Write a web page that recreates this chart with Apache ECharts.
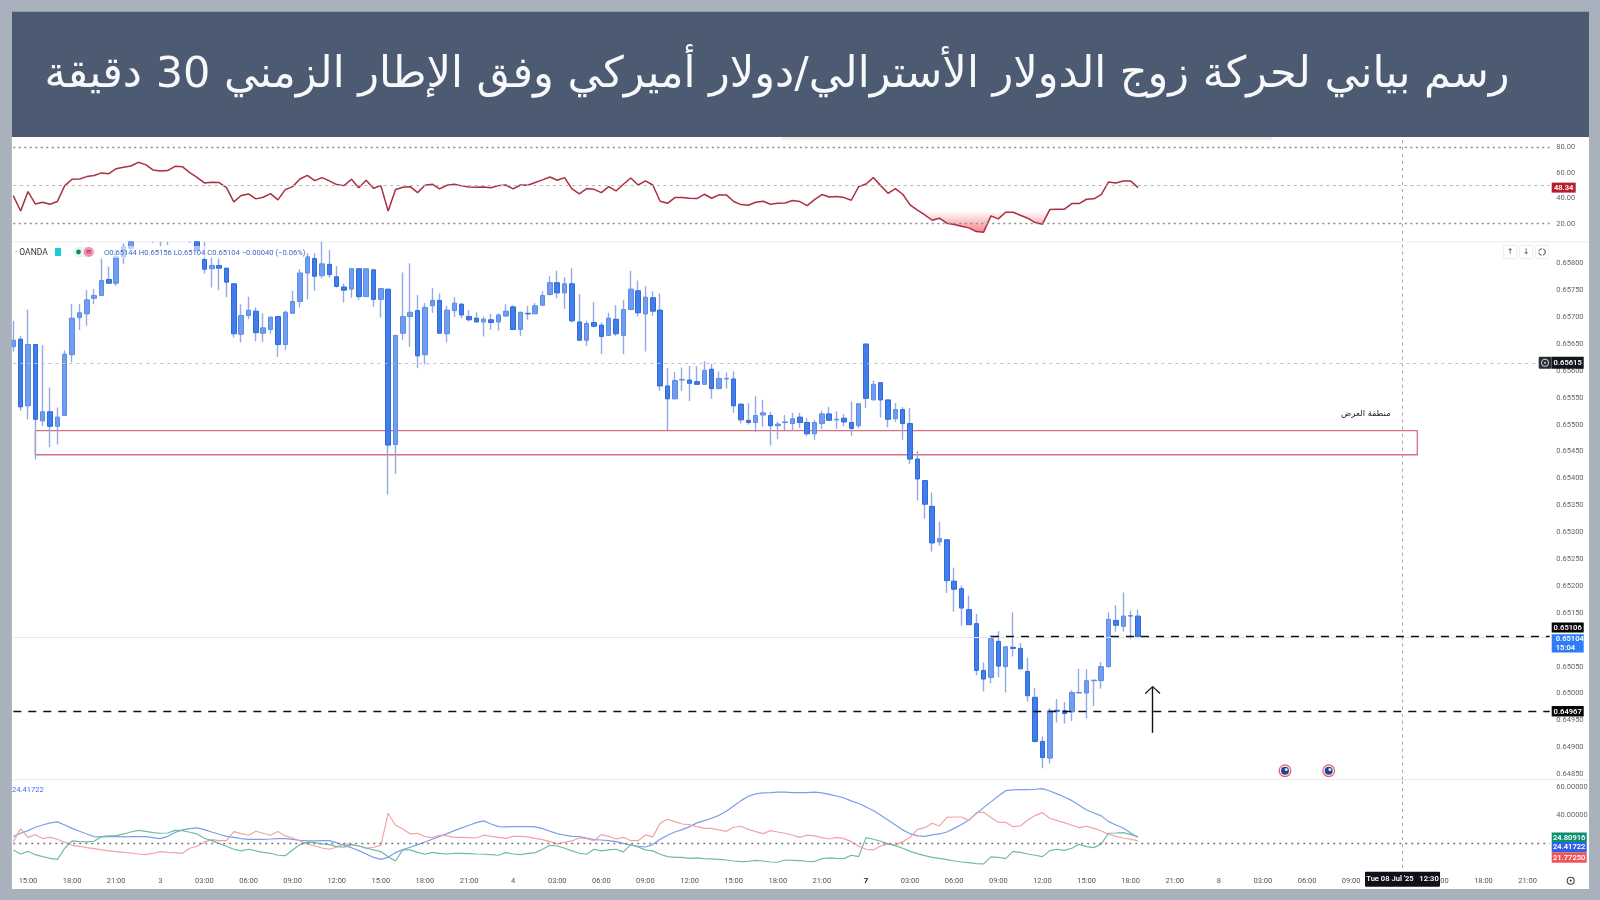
<!DOCTYPE html>
<html lang="ar">
<head>
<meta charset="utf-8">
<title>AUD/USD 30m</title>
<style>html,body{margin:0;padding:0;background:#a9b2bc}#c{width:1600px;height:900px}</style>
<script src="https://cdn.jsdelivr.net/npm/echarts@6/dist/echarts.min.js"></script>
</head>
<body>
<div id="c"></div>
<script>
const titleText = 'رسم بياني لحركة زوج الدولار الأسترالي/دولار أميركي وفق الإطار الزمني 30 دقيقة';
const zoneLabel = 'منطقة العرض';

// prices in units of 0.00001
const open = [
65645,65659,65535,65649,65507,65524,65497,65517,65630,65699,
65706,65735,65740,65770,65763,65812,65828,65860,65885,65860,
65860,65846,65868,65870,65880,65860,65807,65790,65796,65791,
65762,65668,65703,65711,65670,65677,65701,65649,65707,65729,
65782,65809,65777,65798,65775,65756,65752,65790,65738,65788,
65733,65752,65463,65670,65701,65712,65630,65721,65731,65669,
65712,65724,65701,65698,65691,65695,65691,65702,65719,65677,
65707,65706,65722,65742,65764,65745,65762,65691,65657,65690,
65685,65666,65696,65666,65714,65749,65706,65736,65713,65572,
65548,65583,65583,65580,65575,65603,65567,65585,65585,65538,
65508,65504,65518,65517,65498,65504,65502,65514,65504,65483,
65502,65520,65509,65512,65504,65498,65650,65546,65578,65546,
65511,65528,65502,65436,65396,65348,65282,65286,65209,65195,
65156,65130,65043,65030,65097,65050,65086,65084,65041,64993,
64911,64880,64969,64968,64966,65001,65001,65024,65024,65050,
65136,65125,65144,65144];
const close = [
65657,65533,65649,65510,65524,65497,65514,65631,65698,65708,
65732,65740,65768,65763,65812,65831,65860,65885,65870,65870,
65868,65855,65841,65850,65865,65824,65789,65796,65791,65765,
65669,65703,65713,65671,65680,65700,65649,65709,65729,65782,
65812,65776,65799,65779,65757,65750,65790,65738,65790,65733,
65753,65462,65666,65701,65709,65628,65718,65731,65670,65713,
65726,65704,65695,65691,65696,65690,65704,65711,65677,65709,
65706,65721,65740,65764,65745,65762,65693,65657,65688,65683,
65664,65698,65669,65714,65752,65708,65737,65711,65572,65548,
65582,65584,65577,65575,65601,65567,65586,65586,65535,65509,
65504,65517,65522,65498,65501,65505,65511,65504,65483,65504,
65520,65508,65510,65505,65493,65539,65549,65575,65546,65510,
65528,65502,65436,65399,65352,65280,65288,65210,65194,65159,
65128,65043,65027,65102,65051,65087,65084,65046,64996,64911,
64881,64968,64967,64963,65002,65002,65024,65025,65050,65138,
65127,65144,65145,65104];
const high = [
65693,65665,65714,65649,65648,65569,65532,65638,65724,65724,
65750,65752,65809,65794,65825,65837,65870,65895,65895,65885,
65880,65870,65880,65880,65890,65875,65860,65810,65809,65791,
65762,65724,65738,65718,65707,65700,65701,65712,65749,65789,
65819,65819,65848,65825,65795,65762,65790,65790,65790,65788,
65753,65752,65666,65783,65800,65741,65726,65754,65744,65721,
65737,65726,65713,65709,65701,65706,65707,65724,65722,65710,
65721,65726,65748,65776,65786,65774,65791,65743,65693,65728,
65690,65708,65722,65732,65786,65768,65758,65748,65744,65605,
65598,65606,65609,65609,65618,65613,65599,65597,65599,65540,
65540,65553,65546,65524,65505,65518,65522,65522,65512,65509,
65526,65533,65525,65520,65543,65539,65650,65582,65578,65546,
65540,65533,65531,65451,65396,65374,65319,65286,65234,65201,
65182,65148,65058,65109,65116,65087,65151,65094,65066,65010,
64920,64973,64990,64984,65006,65046,65045,65025,65059,65151,
65164,65188,65154,65156];
const low = [
65636,65526,65510,65435,65497,65458,65463,65517,65616,65676,
65684,65724,65740,65762,65758,65799,65825,65855,65850,65838,
65832,65834,65840,65845,65838,65820,65781,65755,65750,65737,
65662,65653,65696,65655,65654,65669,65626,65639,65707,65718,
65733,65749,65772,65773,65755,65727,65736,65732,65738,65719,
65699,65370,65408,65657,65645,65605,65612,65708,65669,65653,
65700,65698,65692,65690,65664,65676,65675,65700,65676,65665,
65695,65706,65721,65740,65735,65715,65690,65656,65646,65681,
65631,65666,65665,65631,65713,65701,65636,65702,65563,65490,
65547,65563,65544,65574,65574,65548,65566,65567,65522,65502,
65500,65486,65496,65461,65473,65490,65489,65494,65479,65472,
65492,65507,65492,65497,65479,65493,65531,65546,65513,65495,
65505,65472,65427,65359,65325,65264,65275,65187,65152,65126,
65128,65034,65004,65019,65030,65002,65069,65045,64985,64909,
64861,64870,64946,64944,64949,65001,64954,64977,65009,65049,
65115,65115,65101,65104];

const rsi = [
42.1,30.0,45.2,35.5,36.8,35.3,37.4,49.9,54.9,55.1,57.0,57.8,59.9,59.3,63.2,64.3,65.3,68.2,66.4,62.2,
61.4,61.7,65.1,64.8,60.1,56.4,52.0,52.5,52.3,48.3,37.1,42.1,43.4,39.5,40.8,43.6,38.7,46.8,49.1,55.1,
58.0,53.8,56.2,53.6,50.7,49.9,54.9,48.3,54.1,47.8,49.9,30.0,46.8,48.6,49.1,44.4,50.2,51.0,47.3,50.2,
51.0,49.7,48.9,48.6,48.9,48.3,49.9,50.4,47.3,50.4,50.2,52.3,54.4,56.7,54.1,56.2,47.3,43.4,47.6,47.0,
44.4,49.1,45.7,51.0,55.9,50.4,53.6,50.4,37.6,36.0,40.5,40.5,40.0,39.7,43.1,40.0,42.6,42.6,37.4,35.0,
34.5,36.8,37.6,35.3,36.0,36.3,38.2,37.4,34.2,38.9,42.9,41.0,41.3,40.5,38.4,49.1,51.2,56.2,49.9,43.9,
47.6,43.1,34.8,30.6,26.9,22.7,24.3,20.4,19.3,18.0,16.7,13.8,13.3,26.1,23.8,29.0,29.0,26.6,24.3,20.9,
19.6,31.1,31.4,31.4,35.8,35.8,39.2,39.5,42.9,52.8,52.0,53.6,53.6,48.34];

const adxBlue = [
24.8,27.2,29.1,31.5,33.1,34.6,35.3,33.1,30.7,28.6,26.7,24.8,24.6,24.8,25.0,24.6,24.8,24.8,24.8,24.1,
23.4,25.0,27.7,29.6,30.5,31.0,29.8,28.1,26.5,25.0,24.3,23.4,22.9,22.9,22.9,23.1,23.4,23.4,22.9,22.2,
21.7,21.7,21.9,21.9,20.3,18.6,16.9,14.8,12.4,10.0,8.6,10.0,13.4,15.5,17.2,19.1,21.0,22.9,25.0,26.9,
29.1,31.0,32.9,34.8,36.0,33.8,31.9,31.7,31.9,31.9,31.9,31.7,30.5,28.6,26.9,25.8,25.0,24.8,23.8,22.7,
22.4,21.9,21.2,20.0,18.8,17.9,17.4,19.1,22.9,25.8,28.1,29.8,31.9,34.6,36.2,37.9,40.0,42.9,46.7,50.5,
53.6,55.3,56.0,56.2,56.5,56.5,56.2,56.2,56.2,56.5,56.0,55.0,53.8,52.4,50.3,48.4,46.0,43.4,40.0,36.7,
33.1,29.6,26.9,25.3,25.0,26.0,26.7,28.1,30.7,33.4,36.7,41.2,45.5,49.6,53.8,57.6,58.1,58.4,58.4,58.6,
59.1,57.4,55.3,53.1,50.5,47.2,43.8,41.7,39.6,35.5,33.1,31.0,27.4,24.42];
const adxRed = [
21.2,30.5,24.3,26.2,23.4,24.3,22.9,20.8,18.6,17.9,16.9,16.2,15.3,14.6,14.1,13.6,13.1,12.4,11.9,12.9,
14.1,13.6,13.4,12.9,16.5,17.9,21.0,22.7,21.9,21.9,28.4,26.9,25.8,28.6,27.2,25.8,28.4,25.3,23.8,21.7,
19.6,18.1,16.7,15.8,17.4,19.6,19.1,18.1,16.5,17.2,18.6,41.5,32.9,30.3,26.7,27.2,24.8,24.1,25.8,25.3,
24.3,24.3,24.1,23.8,25.8,25.0,24.3,23.6,25.0,25.0,24.6,23.6,22.7,21.2,19.6,20.8,21.7,23.8,23.4,21.9,
26.2,25.0,23.1,24.3,21.9,21.9,26.0,24.6,34.3,37.2,35.5,33.8,33.4,31.9,30.7,30.7,29.6,28.6,31.5,32.2,
30.0,28.4,26.9,29.1,28.1,27.2,25.8,24.3,25.8,25.3,24.1,23.1,24.3,23.4,21.2,18.1,15.8,15.3,18.1,19.6,
18.6,21.2,24.3,30.0,31.2,34.3,32.4,38.6,38.8,38.8,36.2,41.9,42.2,38.4,35.0,35.0,31.9,32.4,36.7,39.8,
41.9,37.9,36.2,34.8,32.9,31.2,32.2,30.7,28.8,26.5,25.0,23.8,22.9,21.77];
const adxGreen = [
15.3,12.4,14.3,11.9,10.5,9.3,8.6,16.5,21.7,21.2,21.0,21.5,24.8,25.3,25.5,26.7,28.1,29.3,28.6,27.7,
27.2,27.4,29.3,29.1,27.9,26.7,23.6,21.9,20.0,17.9,15.8,14.6,15.8,14.6,13.6,12.9,11.5,11.2,15.3,19.1,
20.8,20.5,19.6,19.1,17.7,17.2,19.1,18.1,16.7,15.3,14.1,10.5,7.4,15.3,15.3,13.6,12.2,13.6,12.9,12.4,
12.9,12.9,12.7,12.4,12.2,11.9,11.5,13.4,12.4,11.9,12.9,13.4,15.8,18.6,18.1,16.5,14.6,12.9,12.2,15.8,
14.6,15.3,15.8,13.9,19.1,17.4,15.3,14.6,12.2,10.5,10.0,10.0,9.3,9.6,9.1,8.9,8.6,8.1,7.4,7.0,
7.2,7.9,7.4,6.7,6.5,8.1,7.9,7.7,7.2,7.0,9.1,9.6,9.3,9.1,11.5,10.5,24.1,22.9,21.5,19.6,
18.4,16.5,14.3,12.7,11.2,10.0,9.3,8.4,7.4,6.7,6.2,5.5,5.3,10.3,10.0,9.1,14.3,13.6,12.4,11.5,
10.5,14.8,15.8,15.0,16.5,19.3,17.7,16.9,19.6,27.2,27.4,27.7,26.2,24.81];

const priceTicks = [65800,65750,65700,65650,65600,65550,65500,65450,65400,65350,65300,65250,65200,65150,65100,65050,65000,64950,64900,64850];
const rsiTicks = [80,60,40,20];
const adxTicks = [60,40];
const timeTicks = ['15:00','18:00','21:00','3','03:00','06:00','09:00','12:00','15:00','18:00','21:00','4','03:00','06:00','09:00','12:00','15:00','18:00','21:00','7','03:00','06:00','09:00','12:00','15:00','18:00','21:00','8','03:00','06:00','09:00','12:00','15:00','18:00','21:00'];
const firstTickIndex = 2, barsPerTick = 6, barCount = 210;
const crossIndex = 189;
const priceMin = 64840, priceMax = 65840;
const zone = {from:3, to:191, top:65489, bottom:65444};
const levels = {ref:65615, last:65104, upper:65106, lower:64967};

const categories = new Array(barCount).fill('');
timeTicks.forEach((t,k)=>{categories[firstTickIndex+k*barsPerTick]=t;});

// the price pane cuts candles off at its top edge
const capTop = v=>Math.min(v,priceMax);
const wickData = open.map((o,i)=>low[i]>=priceMax?'-':[capTop(o),capTop(close[i]),low[i],capTop(high[i])]);
const bodyData = open.map((o,i)=>{
  const c=close[i];
  if(Math.min(o,c)>=priceMax) return '-';
  return [capTop(o),capTop(c),Math.min(o,c),capTop(Math.max(o,c))];
});

const FONT='Roboto, "Open Sans", sans-serif';
const GL=9.6, GR=1600-(9.6+7.351*barCount);
const grids=[
  {left:GL,right:GR,top:137,height:104},
  {left:GL,right:GR,top:241.8,height:537.8},
  {left:GL,right:GR,top:779.6,height:88.4}
];
function xA(i,show){return {type:'category',gridIndex:i,data:categories,boundaryGap:true,
  axisLine:{show:false},axisTick:{show:false},splitLine:{show:false},
  axisLabel:show?{show:true,interval:0,margin:9,fontFamily:FONT,fontSize:7.5,color:'#555',hideOverlap:false,
    formatter:v=>v==='7'?'{b|7}':v,rich:{b:{fontWeight:'bold',color:'#222',fontSize:8,fontFamily:FONT}}}:{show:false}};}
function yA(i,min,max,ticks,fmt){return {type:'value',gridIndex:i,position:'right',min,max,scale:true,
  axisLine:{show:false},axisTick:{show:false},splitLine:{show:false},
  axisLabel:{show:true,margin:3,customValues:ticks,fontFamily:FONT,fontSize:7.5,color:'#666',formatter:fmt,showMinLabel:true,showMaxLabel:true}};}
function hline(v,from,style){return [{coord:[from,v],lineStyle:style},{coord:[barCount-1,v]}];}
const crossStyle={color:'#a5a9b0',width:1,type:[3,4]};
function crossLine(){return {xAxis:crossIndex,lineStyle:crossStyle};}
const dotDark={color:'#8a8d92',width:1.3,type:[2,3.5]};
const dashLight={color:'#b4b6b8',width:1,type:[3,3.5]};
const dashBlack={color:'#111',width:1.4,type:[8,7]};

const option={
  animation:false,
  backgroundColor:'#a9b2bc',
  title:{text:titleText,left:772,top:49,textAlign:'center',z:20,
    textStyle:{fontFamily:'"DejaVu Sans"',fontSize:43,fontWeight:'normal',color:'#f7f8fa'}},
  grid:grids,
  xAxis:[xA(0,false),xA(1,false),xA(2,true)],
  yAxis:[
    yA(0,6.4,88.1,rsiTicks,v=>v.toFixed(2)),
    yA(1,priceMin,priceMax,priceTicks,v=>(v/1e5).toFixed(5)),
    yA(2,2.4,65.5,adxTicks,v=>v.toFixed(5))
  ],
  series:[
    {type:'line',name:'oversold',xAxisIndex:0,yAxisIndex:0,data:rsi.map(v=>Math.min(v,30)),showSymbol:false,silent:true,
      lineStyle:{opacity:0},areaStyle:{origin:30,opacity:1,color:new echarts.graphic.LinearGradient(0,0,0,1,[{offset:0,color:'rgba(242,54,69,0)'},{offset:1,color:'rgba(242,54,69,0.6)'}])}},
    {type:'line',name:'RSI',xAxisIndex:0,yAxisIndex:0,data:rsi,showSymbol:false,silent:true,
      lineStyle:{color:'#a92f42',width:1.5},
      markLine:{silent:true,symbol:'none',label:{show:false},animation:false,data:[
        hline(80,0,dotDark),hline(50,0,dashLight),hline(20,0,dotDark),crossLine()]}},
    {type:'candlestick',name:'wicks',xAxisIndex:1,yAxisIndex:1,data:wickData,barWidth:1,silent:true,
      itemStyle:{color:'#93aae6',color0:'#93aae6',borderColor:'#93aae6',borderColor0:'#93aae6',borderWidth:1.4},
      markArea:{silent:true,label:{show:false},itemStyle:{color:'rgba(0,0,0,0)',borderColor:'#d8707e',borderWidth:1.3},
        data:[[{coord:[zone.from,zone.top]},{coord:[zone.to,zone.bottom]}]]},
      markLine:{silent:true,symbol:'none',label:{show:false},animation:false,data:[
        hline(levels.ref,0,{color:'#bdbfc2',width:1,type:[3,4]}),
        hline(levels.last,0,{color:'#e4e7ec',width:1,type:'solid'}),
        crossLine()]}},
    {type:'candlestick',name:'bodies',xAxisIndex:1,yAxisIndex:1,data:bodyData,barWidth:5,silent:true,
      itemStyle:{color:'#6e9ef2',color0:'#3f7eeb',borderColor:'#5f8ce2',borderColor0:'#3269d6',borderWidth:1},
      markLine:{silent:true,symbol:'none',label:{show:false},animation:false,data:[
        hline(levels.upper,133,dashBlack),hline(levels.lower,0,dashBlack),
        [{coord:[155,64927],lineStyle:{color:'#111',width:1.4,type:'solid'}},{coord:[155,65013]}],
        [{coord:[154,65000],lineStyle:{color:'#111',width:1.2,type:'solid'}},{coord:[155,65013]}],
        [{coord:[156,65000],lineStyle:{color:'#111',width:1.2,type:'solid'}},{coord:[155,65013]}]
      ]},
      markPoint:{silent:true,symbol:'circle',symbolSize:0,data:[{coord:[184,65520],label:{show:true,position:'inside',formatter:zoneLabel,color:'#222',fontSize:8.5,fontFamily:'"DejaVu Sans"'}}]}},
    {type:'line',name:'ADX',xAxisIndex:2,yAxisIndex:2,data:adxBlue,showSymbol:false,silent:true,lineStyle:{color:'#7c9de9',width:1.2},
      markLine:{silent:true,symbol:'none',label:{show:false},animation:false,data:[hline(20,0,{color:'#777',width:1.4,type:[2,4]}),crossLine()]}},
    {type:'line',name:'DI+',xAxisIndex:2,yAxisIndex:2,data:adxRed,showSymbol:false,silent:true,lineStyle:{color:'#f3a3a6',width:1.2}},
    {type:'line',name:'DI-',xAxisIndex:2,yAxisIndex:2,data:adxGreen,showSymbol:false,silent:true,lineStyle:{color:'#6fbd9e',width:1.2}}
  ]
};
const chart=echarts.init(document.getElementById('c'),null,{renderer:'canvas',width:1600,height:900});
chart.setOption(option);

// tags on the right-hand scale, anchored through the axes
const tags=[
  {axis:0,value:rsi[rsi.length-1],text:'48.34',bg:'#b71f2e',w:24,h:10,dy:0},
  {axis:1,value:levels.ref,text:'0.65615',bg:'#10141c',w:32,h:12,dy:0},
  {axis:1,value:levels.upper,text:'0.65106',bg:'#050505',w:32,h:10,dy:-9},
  {axis:1,value:levels.last,text:'0.65104\n15:04',bg:'#2f7df6',w:32,h:18.4,dy:5.8},
  {axis:1,value:levels.lower,text:'0.64967',bg:'#050505',w:32,h:10.5,dy:0},
  {axis:2,value:adxGreen[adxGreen.length-1],text:'24.80916',bg:'#0c8f6c',w:35,h:9.6,dy:0.8},
  {axis:2,value:adxBlue[adxBlue.length-1],text:'24.41722',bg:'#2f62e6',w:35,h:10.4,dy:10},
  {axis:2,value:adxRed[adxRed.length-1],text:'21.77250',bg:'#f0535a',w:35,h:10.6,dy:16.7}
];
const TX=1551.7;
const g=[];
// frame
g.push({type:'rect',z:-20,silent:true,shape:{x:11.7,y:11.5,width:1577.3,height:877.5},style:{fill:'#ffffff'}});
g.push({type:'rect',z:-15,silent:true,shape:{x:11.7,y:11.5,width:1577.3,height:125.5},style:{fill:'#4c5a72'}});
g.push({type:'rect',z:-10,silent:true,shape:{x:782,y:137,width:490,height:3},style:{fill:'#efece6'}});
g.push({type:'rect',z:-10,silent:true,shape:{x:11.7,y:241,width:1577.3,height:1.6},style:{fill:'#f1f2f3'}});
g.push({type:'rect',z:-10,silent:true,shape:{x:11.7,y:779,width:1577.3,height:1.2},style:{fill:'#eceef0'}});
g.push({type:'rect',z:60,silent:true,shape:{x:0,y:0,width:11.7,height:900},style:{fill:'#a9b2bc'}});
// legend
g.push({type:'rect',z:30,silent:true,shape:{x:100,y:246,width:206,height:12},style:{fill:'rgba(255,255,255,0.55)'}});
g.push({type:'text',z:31,silent:true,style:{text:'· OANDA',x:15,y:253,fill:'#333',font:'8.5px '+FONT,textVerticalAlign:'middle'}});
g.push({type:'rect',z:31,silent:true,shape:{x:55,y:248,width:6,height:8},style:{fill:'#1ccad8'}});
g.push({type:'rect',z:31,silent:true,shape:{x:73,y:247,width:22,height:10,r:5},style:{fill:'#e9f5f1'}});
g.push({type:'circle',z:32,silent:true,shape:{cx:78.5,cy:252,r:2.4},style:{fill:'#0b8f6a'}});
g.push({type:'circle',z:32,silent:true,shape:{cx:88.7,cy:252,r:5},style:{fill:'#f48fb1'}});
g.push({type:'text',z:33,silent:true,style:{text:'≋',x:88.7,y:252,fill:'#b71f2e',font:'7px "DejaVu Sans"',textAlign:'center',textVerticalAlign:'middle'}});
g.push({type:'text',z:33,silent:true,style:{text:'O0.65144 H0.65156 L0.65104 C0.65104 −0.00040 (−0.06%)',x:104,y:253,fill:'#3f68c4',font:'7.6px '+FONT,textVerticalAlign:'middle'}});
g.push({type:'text',z:33,silent:true,style:{text:'24.41722',x:12,y:790,fill:'#3f6ff0',font:'7.6px '+FONT,textVerticalAlign:'middle'}});
// top-right buttons
[[1510,'↑'],[1526,'↓'],[1542,'']].forEach(([cx,t])=>{
  g.push({type:'rect',z:30,silent:true,shape:{x:cx-6.5,y:245.5,width:13,height:13,r:1},style:{fill:'#fff',stroke:'#eeeeee',lineWidth:1}});
  if(t)g.push({type:'text',z:31,silent:true,style:{text:t,x:cx,y:252,fill:'#444',font:'8px "DejaVu Sans"',textAlign:'center',textVerticalAlign:'middle'}});
  else g.push({type:'circle',z:31,silent:true,shape:{cx,cy:252,r:3.3},style:{fill:'none',stroke:'#444',lineWidth:1,lineDash:[4,1.5]}});
});
// event flags
[1285,1328.7].forEach(cx=>{
  g.push({type:'circle',z:30,silent:true,shape:{cx,cy:770.7,r:5.8},style:{fill:'#fff',stroke:'#e5606e',lineWidth:1.3}});
  g.push({type:'circle',z:31,silent:true,shape:{cx,cy:770.7,r:4},style:{fill:'#27408f'}});
  g.push({type:'circle',z:32,silent:true,shape:{cx:cx+1.2,cy:769.5,r:1.5},style:{fill:'#dfe7f7'}});
});
// value tags
tags.forEach(t=>{
  const cy=chart.convertToPixel({yAxisIndex:t.axis},t.value)+t.dy;
  g.push({type:'rect',z:40,silent:true,shape:{x:TX,y:cy-t.h/2,width:t.w,height:t.h},style:{fill:t.bg}});
  const lines=t.text.split('\n');
  if(lines.length===1)g.push({type:'text',z:41,silent:true,style:{text:t.text,x:TX+t.w/2,y:cy+.3,fill:'#fff',font:'600 7.6px '+FONT,textAlign:'center',textVerticalAlign:'middle'}});
  else lines.forEach((s,j)=>g.push({type:'text',z:41,silent:true,style:{text:s,x:TX+4,y:cy-t.h/2+5+j*8.6,fill:'#fff',font:'600 7.6px '+FONT,textVerticalAlign:'middle'}}));
});
// eye icon beside 0.65615
const eyeY=chart.convertToPixel({yAxisIndex:1},levels.ref);
g.push({type:'rect',z:40,silent:true,shape:{x:1538.7,y:eyeY-6,width:13,height:12,r:1},style:{fill:'#2a2e36'}});
g.push({type:'circle',z:41,silent:true,shape:{cx:1545,cy:eyeY,r:3.6},style:{fill:'none',stroke:'#fff',lineWidth:.8}});
g.push({type:'circle',z:41,silent:true,shape:{cx:1545,cy:eyeY,r:.9},style:{fill:'#fff'}});
// crosshair time tag
g.push({type:'rect',z:40,silent:true,shape:{x:1365,y:871.7,width:75,height:15,r:1},style:{fill:'#0e1118'}});
g.push({type:'text',z:41,silent:true,style:{text:"Tue 08 Jul '25   12:30",x:1402.5,y:879.5,fill:'#fff',font:'600 7.6px '+FONT,textAlign:'center',textVerticalAlign:'middle'}});
// settings icon
g.push({type:'circle',z:31,silent:true,shape:{cx:1570.7,cy:880.7,r:3.5},style:{fill:'none',stroke:'#444',lineWidth:1.1}});
g.push({type:'circle',z:31,silent:true,shape:{cx:1570.7,cy:880.7,r:1.1},style:{fill:'#444'}});
chart.setOption({graphic:g});
</script>
</body>
</html>
